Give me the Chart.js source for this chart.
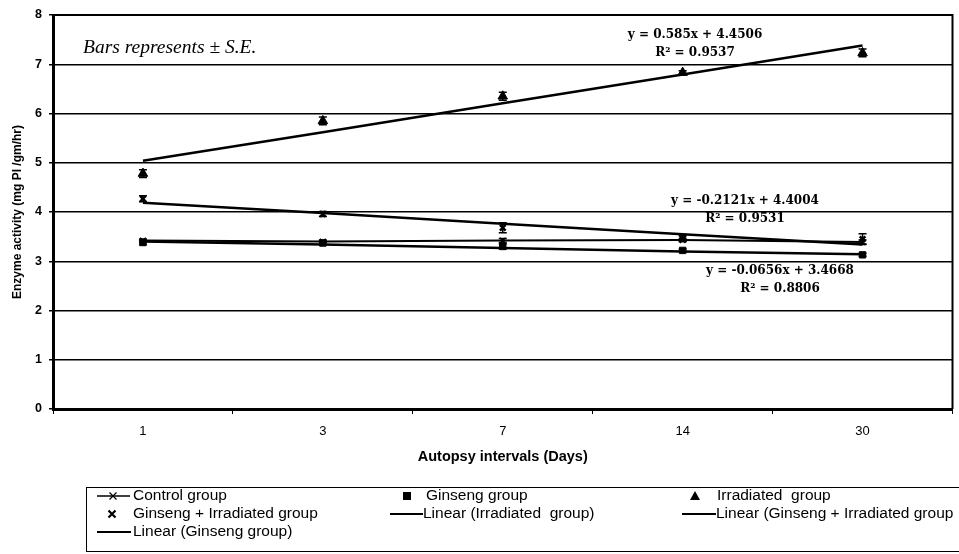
<!DOCTYPE html>
<html>
<head>
<meta charset="utf-8">
<script src="https://cdn.jsdelivr.net/npm/chart.js@4"></script>
<style>
  body { margin: 0; background: #fff; }
  #wrap { width: 959px; height: 554px; }
</style>
</head>
<body>
<div id="wrap"><canvas id="chart" width="959" height="554"></canvas></div>
<script>
// autopsy intervals (days)
const categories = ['1', '3', '7', '14', '30'];
// group means and standard errors
const controlGroup = [3.42, 3.40, 3.42, 3.43, 3.39];
const controlSE = [0.03, 0.03, 0.04, 0.03, 0.04];
const ginsengGroup = [3.38, 3.37, 3.30, 3.22, 3.13];
const ginsengSE = [0.04, 0.03, 0.05, 0.03, 0.03];
const irradiatedGroup = [4.78, 5.85, 6.35, 6.83, 7.23];
const irradiatedSE = [0.08, 0.08, 0.08, 0.04, 0.08];
const ginsengIrrGroup = [4.27, 3.96, 3.68, 3.46, 3.45];
const ginsengIrrSE = [0.06, 0.05, 0.10, 0.06, 0.11];
// trend lines
const linearIrradiated = [5.04, 5.62, 6.21, 6.79, 7.38];
const linearGinsengIrr = [4.19, 3.98, 3.76, 3.55, 3.34];
const linearGinseng = [3.40, 3.34, 3.27, 3.20, 3.14];
// y axis ticks
const yTicks = [0, 1, 2, 3, 4, 5, 6, 7, 8];

// error bars
const errorBars = {
    id: 'errorBars',
    afterDatasetsDraw(chart) {
        const ctx = chart.ctx;
        const y = chart.scales.y;
        chart.data.datasets.forEach(function (ds, i) {
            if (!ds.se) return;
            const meta = chart.getDatasetMeta(i);
            ctx.save();
            ctx.strokeStyle = '#000';
            ctx.lineWidth = 1.5;
            meta.data.forEach(function (pt, j) {
                const top = y.getPixelForValue(ds.data[j] + ds.se[j]);
                const bot = y.getPixelForValue(ds.data[j] - ds.se[j]);
                ctx.beginPath();
                ctx.moveTo(pt.x, top); ctx.lineTo(pt.x, bot);
                ctx.moveTo(pt.x - 4, top); ctx.lineTo(pt.x + 4, top);
                ctx.moveTo(pt.x - 4, bot); ctx.lineTo(pt.x + 4, bot);
                ctx.stroke();
            });
            ctx.restore();
        });
    }
};

// frame, notes, equations and legend box
const extras = {
    id: 'extras',
    afterDraw(chart) {
        const ctx = chart.ctx;
        const a = chart.chartArea;
        ctx.save();
        ctx.strokeStyle = '#000';
        ctx.lineWidth = 2;
        ctx.beginPath();
        ctx.moveTo(a.left, a.top); ctx.lineTo(a.right, a.top); ctx.lineTo(a.right, a.bottom);
        ctx.stroke();

        ctx.fillStyle = '#000';
        ctx.font = 'italic 19.5px "Liberation Serif"';
        ctx.textBaseline = 'middle';
        ctx.fillText('Bars represents \u00b1 S.E.', 83, 48);

        ctx.font = 'bold 12px "DejaVu Serif"';
        ctx.textAlign = 'center';
        ctx.fillText('y = 0.585x + 4.4506', 695, 35);
        ctx.fillText('R\u00b2 = 0.9537', 695, 53);
        ctx.fillText('y = -0.2121x + 4.4004', 745, 201);
        ctx.fillText('R\u00b2 = 0.9531', 745, 219);
        ctx.fillText('y = -0.0656x + 3.4668', 780, 271);
        ctx.fillText('R\u00b2 = 0.8806', 780, 289);

        // legend
        ctx.lineWidth = 1;
        ctx.strokeRect(86.5, 487.5, 880, 64);
        ctx.font = '15.5px "Liberation Sans"';
        ctx.textAlign = 'left';
        const rows = [496, 514, 532];
        const line = function (x1, x2, yy) {
            ctx.lineWidth = 2;
            ctx.beginPath(); ctx.moveTo(x1, yy); ctx.lineTo(x2, yy); ctx.stroke();
        };
        const cross = function (cx, cy, r, w) {
            ctx.lineWidth = w;
            ctx.beginPath();
            ctx.moveTo(cx - r, cy - r); ctx.lineTo(cx + r, cy + r);
            ctx.moveTo(cx - r, cy + r); ctx.lineTo(cx + r, cy - r);
            ctx.stroke();
        };
        // row 1
        ctx.lineWidth = 1.5;
        ctx.beginPath(); ctx.moveTo(97, rows[0]); ctx.lineTo(130, rows[0]); ctx.stroke();
        cross(113, rows[0], 3.5, 1.2);
        ctx.fillText('Control group', 133, rows[0]);
        ctx.fillRect(403, rows[0] - 4, 8, 8);
        ctx.fillText('Ginseng group', 426, rows[0]);
        ctx.beginPath();
        ctx.moveTo(695, rows[0] - 5); ctx.lineTo(700, rows[0] + 4); ctx.lineTo(690, rows[0] + 4);
        ctx.closePath(); ctx.fill();
        ctx.fillText('Irradiated  group', 717, rows[0]);
        // row 2
        cross(112, rows[1], 3.5, 2.2);
        ctx.fillText('Ginseng + Irradiated group', 133, rows[1]);
        line(390, 423, rows[1]);
        ctx.fillText('Linear (Irradiated  group)', 423, rows[1]);
        line(682, 716, rows[1]);
        ctx.fillText('Linear (Ginseng + Irradiated group', 716, rows[1]);
        // row 3
        line(97, 131, rows[2]);
        ctx.fillText('Linear (Ginseng group)', 133, rows[2]);
        ctx.restore();
    }
};

new Chart(document.getElementById('chart'), {
    type: 'line',
    data: {
        labels: categories,
        datasets: [{
            label: 'Control group',
            data: controlGroup,
            se: controlSE,
            borderColor: '#000',
            borderWidth: 2,
            pointStyle: 'crossRot',
            pointRadius: 4,
            pointBorderWidth: 1.5,
            pointBorderColor: '#000'
        }, {
            label: 'Ginseng group',
            data: ginsengGroup,
            se: ginsengSE,
            showLine: false,
            pointStyle: 'rect',
            pointRadius: 4.5,
            pointBackgroundColor: '#000',
            pointBorderColor: '#000'
        }, {
            label: 'Irradiated  group',
            data: irradiatedGroup,
            se: irradiatedSE,
            showLine: false,
            pointStyle: 'triangle',
            pointRadius: 5.5,
            pointBackgroundColor: '#000',
            pointBorderColor: '#000'
        }, {
            label: 'Ginseng + Irradiated group',
            data: ginsengIrrGroup,
            se: ginsengIrrSE,
            showLine: false,
            pointStyle: 'crossRot',
            pointRadius: 4,
            pointBorderWidth: 2.5,
            pointBorderColor: '#000'
        }, {
            label: 'Linear (Irradiated  group)',
            data: linearIrradiated,
            borderColor: '#000',
            borderWidth: 2.5,
            pointRadius: 0
        }, {
            label: 'Linear (Ginseng + Irradiated group)',
            data: linearGinsengIrr,
            borderColor: '#000',
            borderWidth: 2.5,
            pointRadius: 0
        }, {
            label: 'Linear (Ginseng group)',
            data: linearGinseng,
            borderColor: '#000',
            borderWidth: 2.5,
            pointRadius: 0
        }]
    },
    options: {
        responsive: false,
        animation: false,
        layout: { padding: { top: 15, right: 6, bottom: 83, left: 0 } },
        scales: {
            x: {
                offset: true,
                afterFit: function (scale) { scale.height = 62; },
                grid: { offset: true, drawOnChartArea: false, color: '#000', tickLength: 5 },
                border: { color: '#000', width: 3 },
                ticks: { color: '#000', padding: 10, font: { family: 'Liberation Sans', size: 13 } },
                title: {
                    display: true,
                    text: 'Autopsy intervals (Days)',
                    color: '#000',
                    padding: { top: 0, bottom: 5 },
                    font: { family: 'Liberation Sans', size: 14.5, weight: 'bold' }
                }
            },
            y: {
                min: 0,
                max: 8,
                afterFit: function (scale) { scale.width = 53; },
                afterBuildTicks: function (scale) { scale.ticks = yTicks.map(function (v) { return { value: v }; }); },
                grid: { color: '#000', lineWidth: 1.5, tickLength: 4 },
                border: { color: '#000', width: 3 },
                ticks: { color: '#000', padding: 7, font: { family: 'Liberation Sans', size: 12.5, weight: 'bold' } },
                title: {
                    display: true,
                    text: 'Enzyme activity (mg PI /gm/hr)',
                    color: '#000',
                    padding: { top: 10, bottom: 0 },
                    font: { family: 'Liberation Sans', size: 12, weight: 'bold' }
                }
            }
        },
        plugins: {
            legend: { display: false },
            tooltip: { enabled: false }
        }
    },
    plugins: [errorBars, extras]
});
</script>
</body>
</html>
